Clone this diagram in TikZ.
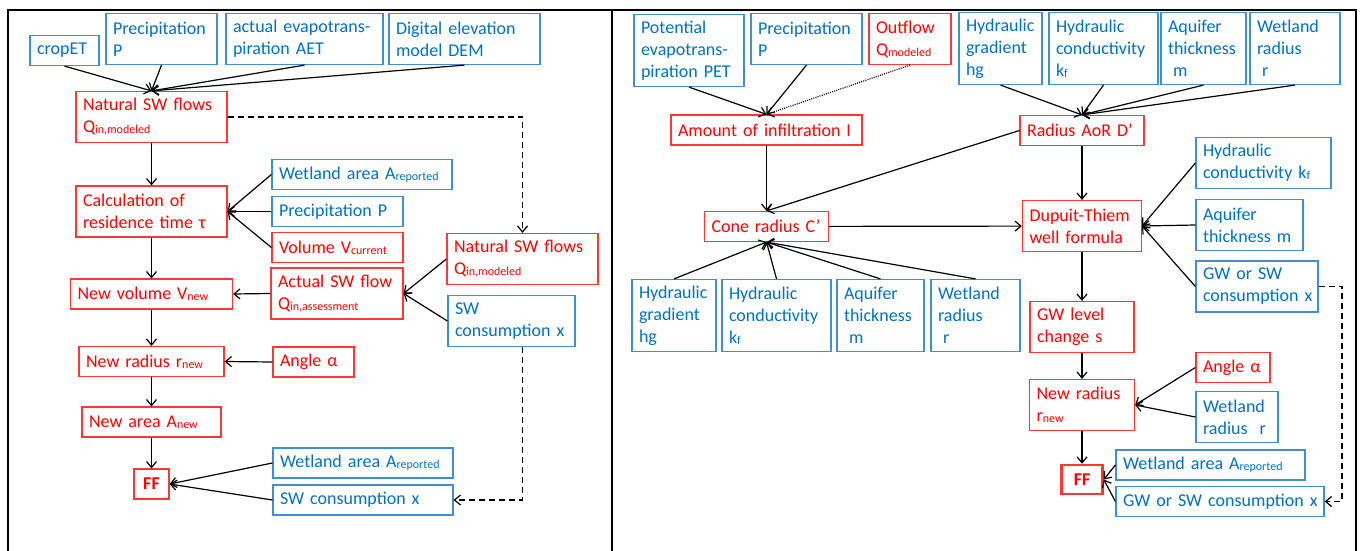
\documentclass[tikz,border=0pt]{standalone}
\usepackage{fontspec}
\setmainfont{Carlito}
\usepackage{tikz}
\usetikzlibrary{arrows.meta}
\definecolor{bluetxt}{RGB}{0,112,192}
\definecolor{blueline}{RGB}{65,140,210}
\definecolor{redtxt}{RGB}{255,0,0}
\definecolor{redline}{RGB}{255,55,55}
\newcommand{\sbt}[1]{{\fontsize{12}{12}\selectfont\raisebox{-1pt}{#1}}}
\tikzset{
datum/.style = {draw=blueline, text=bluetxt, fill=white, rectangle, align=left, line width=1.2pt, inner xsep=7pt, inner ysep=3pt, font=\fontsize{18}{22}\selectfont},
model/.style = {datum, draw=redline, text=redtxt},
ffbox/.style = {draw=redline, text=redtxt, fill=white, rectangle, align=center, line width=1.2pt, inner sep=0pt, minimum width=35pt, minimum height=30pt, font=\fontsize{18}{22}\selectfont\bfseries},
oneline/.style = {minimum height=30pt},
twoline/.style = {minimum height=51pt},
threeline/.style = {minimum height=72pt},
link/.style = {->, line width=1.2pt},
feed/.style = {->, line width=1.2pt, dash pattern=on 6pt off 4pt},
}

\begin{document}
\begin{tikzpicture}[x=1pt, y=-1pt, >={Straight Barb[length=6pt,width=10pt]}]
      \useasboundingbox (0,0) rectangle (1365,551);
      % frame
      \draw[line width=2pt] (8,551) -- (8,10) -- (1356,10) -- (1356,551);
      \draw[line width=2pt] (612,10) -- (612,551);
      % left panel
      \node [datum, oneline, text width=55pt] (cropL) at (64.5,50.5) {cropET};
      \node [datum, twoline, text width=97pt] (precL) at (161.5,39) {Precipitation\\P};
      \node [datum, twoline, text width=143pt] (aetL) at (304.5,39) {actual evapotrans-\\piration AET};
      \node [datum, twoline, text width=137pt] (demL) at (464.5,39) {Digital elevation\\model DEM};
      \node [model, twoline, text width=137pt] (natL) at (151.5,117) {Natural SW flows\\Q\sbt{in,modeled}};
      \node [model, twoline, text width=137pt, below of = natL, node distance = 94.5pt] (resL) {Calculation of\\residence time τ};
      \node [model, oneline, text width=148pt, below of = resL, node distance = 82.5pt] (nvolL) {New volume V\sbt{new}};
      \node [model, oneline, text width=131pt, below of = nvolL, node distance = 67.5pt] (nradL) {New radius r\sbt{new}};
      \node [model, oneline, text width=125pt, below of = nradL, node distance = 60.5pt] (nareaL) {New area A\sbt{new}};
      \node [ffbox, below of = nareaL, node distance = 62pt] (ffL) {FF};
      \node [datum, oneline, text width=166pt] (wareaL) at (362,174.5) {Wetland area A\sbt{reported}};
      \node [datum, oneline, text width=117pt] (prec2L) at (337.5,211.5) {Precipitation P};
      \node [model, oneline, text width=117pt] (volL) at (337.5,247.5) {Volume V\sbt{current}};
      \node [model, twoline, text width=118pt] (actL) at (337,293.5) {Actual SW flow\\Q\sbt{in,assessment}};
      \node [model, twoline, text width=137pt] (nat2L) at (522.5,259) {Natural SW flows\\Q\sbt{in,modeled}};
      \node [datum, twoline, text width=113pt] (swcL) at (511.5,321) {SW\\consumption x};
      \node [model, oneline, text width=67pt] (angL) at (313.5,362) {Angle α};
      \node [datum, oneline, text width=166pt] (warea2L) at (363,463) {Wetland area A\sbt{reported}};
      \node [datum, oneline, text width=166pt] (swc2L) at (363,500) {SW consumption x};
      \draw [link] (cropL.south) -- (natL.north);
      \draw [link] (precL.south) -- (natL.north);
      \draw [link] (aetL.south) -- (natL.north);
      \draw [link] (demL.south) -- (natL.north);
      \draw [link] (natL) -- (resL);
      \draw [link] (resL) -- (nvolL);
      \draw [link] (nvolL) -- (nradL);
      \draw [link] (nradL) -- (nareaL);
      \draw [link] (nareaL) -- (ffL);
      \draw [link] (wareaL.west) -- (resL.east);
      \draw [link] (prec2L.west) -- (resL.east);
      \draw [link] (volL.west) -- (resL.east);
      \draw [link] (nat2L.west) -- (actL.east);
      \draw [link] (swcL.west) -- (actL.east);
      \draw [link] (actL.west) -- (nvolL.east);
      \draw [link] (angL.west) -- (nradL.east);
      \draw [link] (warea2L.west) -- (ffL.east);
      \draw [link] (swc2L.west) -- (ffL.east);
      \draw [feed] (natL.east) -| (nat2L.north);
      \draw [feed] (swcL.south -| nat2L.north) |- (swc2L.east);
      % right panel
      \node [datum, threeline, text width=96pt] (petR) at (689,50.5) {Potential\\evapotrans-\\piration PET};
      \node [datum, twoline, text width=97pt] (precR) at (806.5,39) {Precipitation\\P};
      \node [model, twoline, text width=68pt] (outR) at (910,39) {Outflow\\Q\sbt{modeled}};
      \node [datum, threeline, text width=69pt] (hgR) at (1000.5,48.5) {Hydraulic\\gradient\\hg};
      \node [datum, threeline, text width=95pt] (kfR) at (1103.5,48.5) {Hydraulic\\conductivity\\k\sbt{f}};
      \node [datum, threeline, text width=71pt] (aqR) at (1203.5,48.5) {Aquifer\\thickness\\\hspace*{5pt}m};
      \node [datum, threeline, text width=76pt] (wrR) at (1295,48.5) {Wetland\\radius\\\hspace*{5pt}r};
      \node [model, oneline, text width=177pt] (infR) at (766.5,130) {Amount of infiltration I};
      \node [model, oneline, text width=110pt] (aorR) at (1082,130.5) {Radius AoR D’};
      \node [model, oneline, text width=110pt, below of = infR, node distance = 96.5pt] (coneR) {Cone radius C’};
      \node [model, twoline, text width=105pt, below of = aorR, node distance = 95.5pt] (dupR) {Dupuit-Thiem\\well formula};
      \node [model, twoline, text width=90pt, below of = dupR, node distance = 101pt] (gwlR) {GW level\\change s};
      \node [model, twoline, text width=91pt, below of = gwlR, node distance = 78pt] (nradR) {New radius\\r\sbt{new}};
      \node [ffbox, line width=2.5pt, minimum width=41pt, minimum height=29pt, below of = nradR, node distance = 74.5pt] (ffR) {FF};
      \node [datum, twoline, text width=121pt] (kf2R) at (1263.5,163) {Hydraulic\\conductivity k\sbt{f}};
      \node [datum, twoline, text width=93pt] (aq2R) at (1249.5,225) {Aquifer\\thickness m};
      \node [datum, twoline, text width=108pt] (gwcR) at (1257,286.5) {GW or SW\\\mbox{consumption x}};
      \node [datum, threeline, text width=70pt] (hg2R) at (674,315.5) {Hydraulic\\gradient\\hg};
      \node [datum, threeline, text width=95pt] (kf3R) at (776.5,315.5) {Hydraulic\\conductivity\\k\sbt{f}};
      \node [datum, threeline, text width=73pt] (aq3R) at (880.5,315.5) {Aquifer\\thickness\\\hspace*{5pt}m};
      \node [datum, threeline, text width=75pt] (wr2R) at (975.5,315.5) {Wetland\\radius\\\hspace*{5pt}r};
      \node [model, oneline, text width=60pt] (angR) at (1233,367.5) {Angle α};
      \node [datum, twoline, text width=68pt] (wr3R) at (1237,417) {Wetland\\radius~~r};
      \node [datum, oneline, text width=175pt] (wareaR) at (1210.5,465) {Wetland area A\sbt{reported}};
      \node [datum, oneline, text width=194pt] (gwc2R) at (1220,501.5) {\mbox{GW or SW consumption x}};
      \coordinate (bendR) at (1342,286.5);
      \draw [link] (petR.south) -- (infR.north);
      \draw [link] (precR.south) -- (infR.north);
      \draw [link, dash pattern=on 1pt off 1.2pt] (outR.south) -- (infR.north);
      \draw [link] (hgR.south) -- (aorR.north);
      \draw [link] (kfR.south) -- (aorR.north);
      \draw [link] (aqR.south) -- (aorR.north);
      \draw [link] (wrR.south) -- (aorR.north);
      \draw [link] (infR) -- (coneR);
      \draw [link] (aorR.west) -- (coneR.north);
      \draw [link] (aorR) -- (dupR);
      \draw [link] (coneR) -- (dupR);
      \draw [link] (kf2R.west) -- (dupR.east);
      \draw [link] (aq2R.west) -- (dupR.east);
      \draw [link] (gwcR.west) -- (dupR.east);
      \draw [link] (hg2R.north) -- (coneR.south);
      \draw [link] (kf3R.north) -- (coneR.south);
      \draw [link] (aq3R.north) -- (coneR.south);
      \draw [link] (wr2R.north) -- (coneR.south);
      \draw [link] (dupR) -- (gwlR);
      \draw [link] (gwlR) -- (nradR);
      \draw [link] (nradR) -- (ffR);
      \draw [link] (angR.west) -- (nradR.east);
      \draw [link] (wr3R.west) -- (nradR.east);
      \draw [link] (wareaR.west) -- (ffR.east);
      \draw [link] (gwc2R.west) -- (ffR.east);
      \draw [feed] (gwcR.east) -- (bendR) |- (gwc2R.east);
\end{tikzpicture}
\end{document}
